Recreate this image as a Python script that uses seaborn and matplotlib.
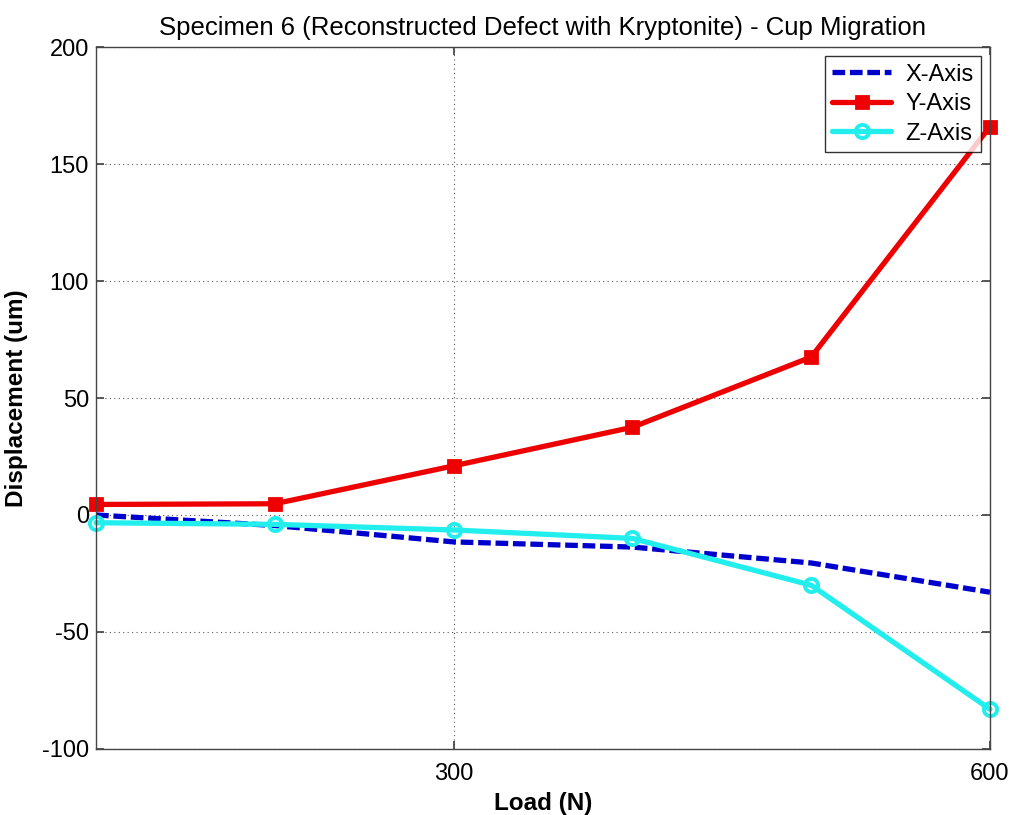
import matplotlib
matplotlib.use("Agg")
import matplotlib.pyplot as plt
import seaborn as sns
import pandas as pd

load = [100, 200, 300, 400, 500, 600]
x_axis = [0.0, -4.5, -11.5, -13.7, -20.5, -33.0]
y_axis = [4.5, 4.8, 21.0, 37.5, 67.5, 166.0]
z_axis = [-3.3, -4.0, -6.4, -10.0, -30.0, -83.0]
series_names = ["X-Axis", "Y-Axis", "Z-Axis"]
x_ticks = [300, 600]
y_ticks = [-100, -50, 0, 50, 100, 150, 200]

sns.set_theme(style="white")
plt.rcParams['font.family'] = ['Liberation Sans', 'DejaVu Sans']
plt.rcParams['axes.unicode_minus'] = False
plt.rcParams['text.color'] = 'black'

fig = plt.figure(figsize=(10.14, 8.15), dpi=100)
ax = fig.add_axes([0.0947, 0.081, 0.9763 - 0.0947, 0.9423 - 0.081])

df = pd.DataFrame({"Load": load, "X": x_axis, "Y": y_axis, "Z": z_axis})

sns.lineplot(data=df, x="Load", y="X", ax=ax, color="#0000cc", lw=3.8,
             linestyle=(0, (2.4, 0.9)), label=series_names[0], clip_on=False)
sns.lineplot(data=df, x="Load", y="Y", ax=ax, color="#ee0000", lw=3.8,
             marker="s", markersize=8, markeredgecolor="#ee0000",
             markeredgewidth=2.0,
             markerfacecolor="#ee0000", label=series_names[1], clip_on=False)
sns.lineplot(data=df, x="Load", y="Z", ax=ax, color="#22eeee", lw=3.8,
             marker="o", markersize=9.5, markeredgecolor="#22eeee",
             markeredgewidth=2.8, markerfacecolor="none", label=series_names[2],
             clip_on=False)

ax.set_xlim(100, 600)
ax.set_ylim(-100, 200)
ax.set_xticks(x_ticks)
ax.set_yticks(y_ticks)
ax.tick_params(axis="both", direction="in", length=6, labelsize=17,
               colors="#444444", labelcolor="black", top=True, right=True,
               bottom=True, left=True, pad=5)
ax.tick_params(axis="x", pad=10)
ax.grid(True, linestyle=(0, (1, 3)), color="#555555", linewidth=0.8)
for s in ax.spines.values():
    s.set_color("#444444")
    s.set_linewidth(1.0)

ax.set_title("Specimen 6 (Reconstructed Defect with Kryptonite) - Cup Migration",
             fontsize=18.5, pad=9, color="black")
ax.set_xlabel("Load (N)", fontsize=17.5, fontweight="bold", labelpad=5,
              color="black")
ax.set_ylabel("Displacement (um)", fontsize=17.5, fontweight="bold", labelpad=10,
              color="black")

leg = ax.legend(loc="upper right", fontsize=17, frameon=True, fancybox=False,
                edgecolor="black", borderaxespad=0.4, handlelength=2.5,
                borderpad=0.3, labelspacing=0.32, handletextpad=0.6)
leg.get_frame().set_linewidth(1.0)
for t in leg.get_texts():
    t.set_color("black")

fig.savefig("out.png", dpi=100)
